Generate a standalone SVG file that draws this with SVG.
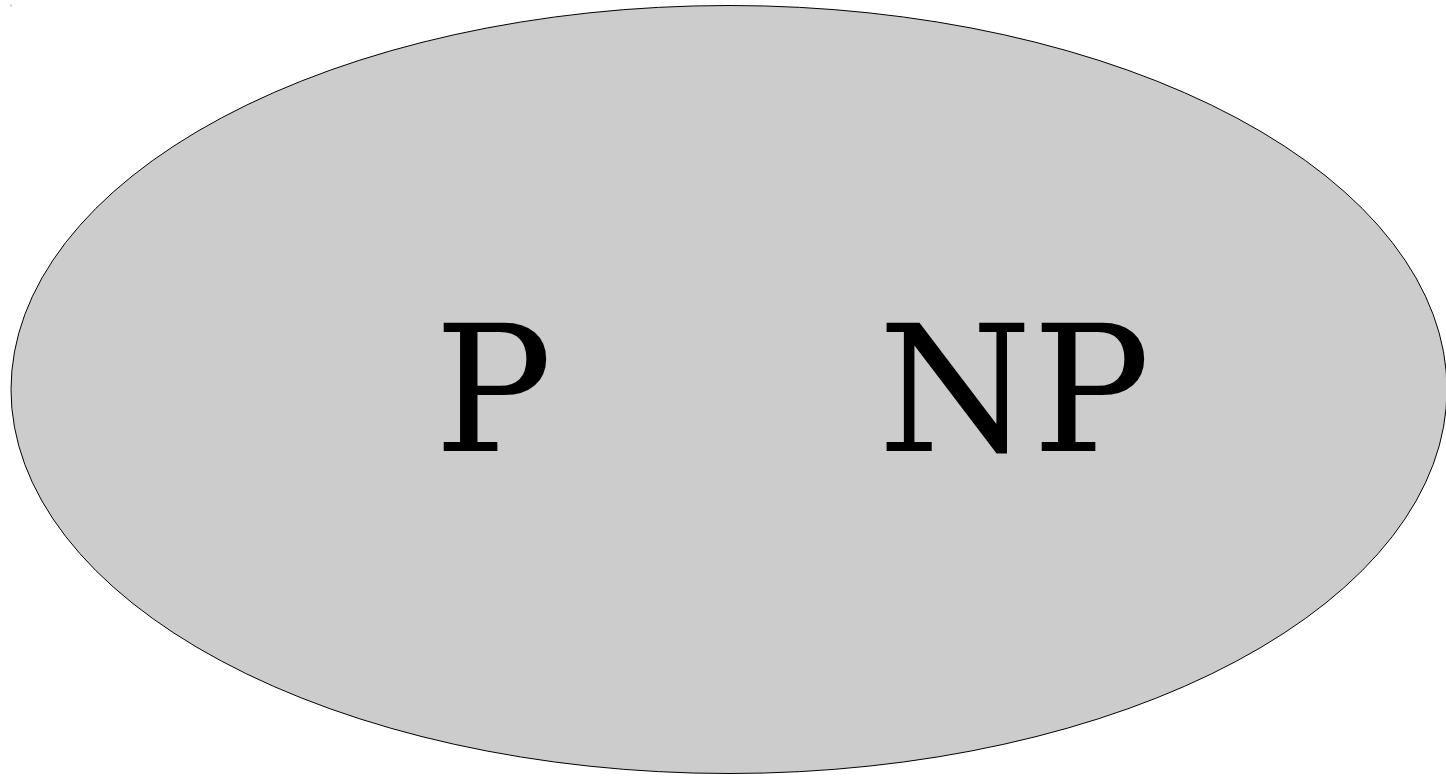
<svg xmlns="http://www.w3.org/2000/svg" width="1446" height="776" viewBox="0 0 1446 776">
<style>
.lbl{font-family:"DejaVu Serif",serif;font-size:176px;fill:#000}
</style>
<rect width="1446" height="776" fill="#fff"/>
<rect x="10.5" y="4.5" width="1" height="2" fill="#999"/>
<g id="set">
<ellipse cx="729" cy="389.5" rx="718" ry="384" fill="#cccccc" stroke="#000" stroke-width="1"/>
</g>
<g id="P"><text class="lbl" x="434" y="451">P</text></g>
<g id="NP"><text class="lbl" x="878" y="451">NP</text></g>
<g id="connectors"/>
</svg>
